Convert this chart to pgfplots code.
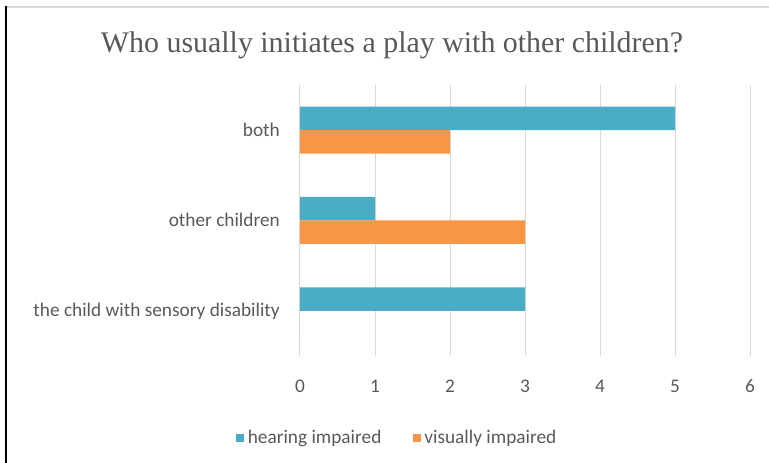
\documentclass[border=0pt]{standalone}
\usepackage{pgfplots}
\pgfplotsset{compat=1.18}
\usepackage{fontspec}
\setmainfont{Carlito}
\newfontfamily\titlefont{Liberation Serif}
\definecolor{hear}{HTML}{4BACC6}
\definecolor{vis}{HTML}{F79646}
\definecolor{txt}{HTML}{595959}
\definecolor{gridc}{HTML}{D9D9D9}
\begin{document}
\begin{tikzpicture}[x=1pt,y=1pt]
\useasboundingbox (0,0) rectangle (769,463);
\draw[gridc, line width=1.5pt] (6,456) -- (769,456);
\draw[black, line width=1.6pt] (6,0) -- (6,456.75);
\node[anchor=base, text=txt, font=\titlefont\fontsize{29.9}{34}\selectfont, inner sep=0pt] at (392,410) {Who usually initiates a play with other children?};
\begin{axis}[at={(300pt,107pt)}, anchor=south west, scale only axis,
  width=450pt, height=271pt,
  xbar, xmin=0, xmax=6, ymin=-0.5, ymax=2.5, bar width=23.5pt,
  ytick={0,1,2},
  yticklabels={the child with sensory disability, other children, both},
  xtick={0,1,2,3,4,5,6},
  xmajorgrids, grid style={gridc, line width=1pt},
  axis line style={draw=none}, major tick length=0pt,
  tick label style={text=txt, font=\fontsize{19.3}{23}\selectfont},
  /pgf/number format/assume math mode=true,
  yticklabel style={anchor=base east, inner sep=0pt, xshift=-20pt, yshift=-6pt},
  xticklabel style={anchor=base, inner sep=0pt, yshift=-37pt},
  legend columns=2,
  legend style={draw=none, fill=none, at={(-0.142,-0.3026)}, anchor=west,
    inner sep=0pt, text=txt, font=\fontsize{19.3}{23}\selectfont,
    nodes={inner sep=1.5pt},
    /tikz/every even column/.append style={column sep=30pt}},
  legend image code/.code={\fill[#1] (0pt,-4pt) rectangle (8pt,4pt); \path (0pt,0pt) -- (10pt,0pt);},
]
\addplot[draw=none, fill=hear, bar shift=11.75pt] coordinates {(3,0) (1,1) (5,2)};
\addlegendentry{hearing impaired}
\addplot[draw=none, fill=vis, bar shift=-11.75pt] coordinates {(0,0) (3,1) (2,2)};
\addlegendentry{visually impaired}
\end{axis}
\end{tikzpicture}
\end{document}
